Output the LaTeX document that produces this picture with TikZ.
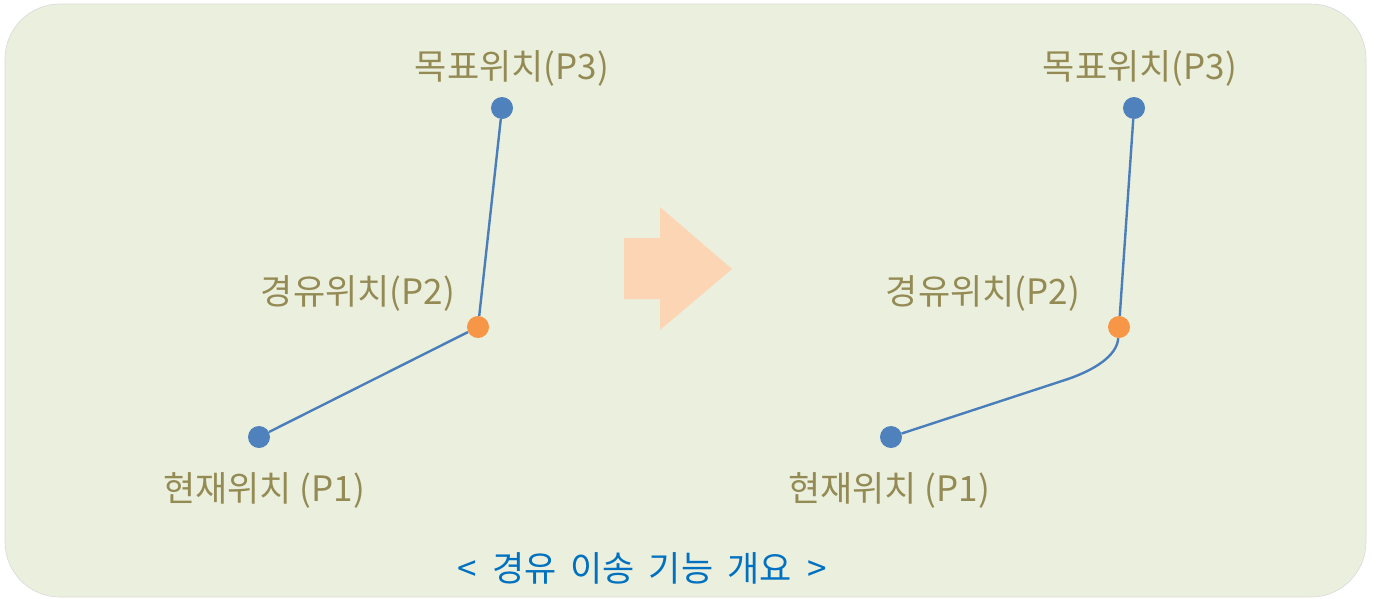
\documentclass[tikz,border=0pt]{standalone}
\usepackage{fontspec}
\setmainfont{Noto Sans CJK KR}
\usepackage{tikz}

\definecolor{bgolive}{HTML}{EBF0DE}
\definecolor{txtolive}{HTML}{948A54}
\definecolor{capblue}{HTML}{0070C0}
\definecolor{ptblue}{HTML}{4F81BD}
\definecolor{ptorange}{HTML}{F79646}
\definecolor{lnblue}{HTML}{4A7EBB}
\definecolor{arrpeach}{HTML}{FCD5B5}

\tikzset{
  pt/.style={circle,fill=ptblue,inner sep=0pt,minimum size=22pt},
  via/.style={pt,fill=ptorange},
  lbl/.style={text=txtolive,font=\fontsize{35}{40}\selectfont,inner sep=0pt,anchor=center},
  path/.style={lnblue,line width=2.4pt}
}

\begin{document}
\begin{tikzpicture}[x=1pt,y=-1pt]
\useasboundingbox (0,0) rectangle (1381,598);
\fill[bgolive,draw=black!15,line width=0.6pt,rounded corners=55pt] (5,4) rectangle (1366,597);
\fill[arrpeach] (624,238) -- (660,238) -- (660,207) -- (732,269) -- (660,330) -- (660,299) -- (624,299) -- cycle;
% before
\node[pt] (p1) at (259,437) {};
\node[via] (p2) at (478,327) {};
\node[pt] (p3) at (502,108) {};
\node[lbl] (p1l) at (264,490) {현재위치 (P1)};
\node[lbl] (p2l) at (358,293) {경유위치(P2)};
\node[lbl] (p3l) at (512,68) {목표위치(P3)};
\draw[path] (p1) -- (p2) -- (p3);
% after
\node[pt] (q1) at (891,437) {};
\node[via] (q2) at (1119,327) {};
\node[pt] (q3) at (1134,108) {};
\node[lbl] (q1l) at (889,490) {현재위치 (P1)};
\node[lbl] (q2l) at (983,293) {경유위치(P2)};
\node[lbl] (q3l) at (1140,68) {목표위치(P3)};
\coordinate (qb) at (1068,379);
\draw[path] (q1) -- (qb) .. controls (1094,370) and (1117,356) .. (q2) -- (q3);
\node[lbl,text=capblue] (cap) at (642,568) {<\hspace{8pt} 경유\hspace{6pt} 이송\hspace{6pt} 기능\hspace{6pt} 개요\hspace{8pt} >};
\end{tikzpicture}
\end{document}
